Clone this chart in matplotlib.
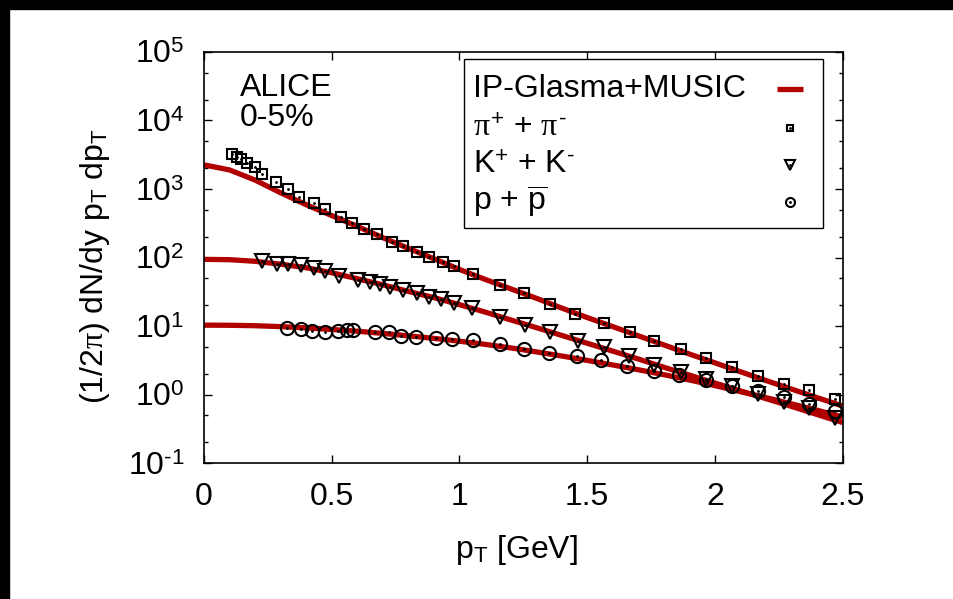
import numpy as np
import matplotlib
matplotlib.use("Agg")
import matplotlib.pyplot as plt
from matplotlib.ticker import LogLocator, FixedLocator, FuncFormatter, NullFormatter
from matplotlib.patches import Rectangle

# ALICE 0-5% data points
pion_pt = [0.108, 0.128, 0.145, 0.169, 0.2, 0.226, 0.281, 0.328, 0.372, 0.431, 0.474, 0.535,
           0.58, 0.626, 0.678, 0.735, 0.78, 0.833, 0.882, 0.934, 0.978, 1.052, 1.157, 1.254,
           1.355, 1.452, 1.564, 1.666, 1.763, 1.866, 1.964, 2.067, 2.169, 2.272, 2.368, 2.47]
pion_y = [3245, 2963, 2715, 2372, 2074, 1640, 1253, 1000, 764, 618, 505, 394,
          316, 258, 218, 170, 149, 122, 103, 86.9, 75.2, 56.9, 40.2, 29.9,
          21.3, 15.2, 11.0, 8.2, 6.1, 4.6, 3.39, 2.52, 1.87, 1.44, 1.15, 0.865]

kaon_pt = [0.228, 0.284, 0.327, 0.38, 0.431, 0.474, 0.53, 0.604, 0.65, 0.689, 0.728, 0.78,
           0.832, 0.882, 0.926, 0.978, 1.05, 1.157, 1.256, 1.355, 1.463, 1.564, 1.663, 1.763,
           1.866, 1.964, 2.067, 2.169, 2.272, 2.368, 2.47]
kaon_y = [89.8, 79.6, 79.6, 76.9, 69.5, 62.9, 54.2, 47.0, 43.9, 41.0, 36.7, 33.9,
          30.3, 26.8, 24.5, 21.4, 18.1, 13.5, 10.5, 8.2, 6.1, 4.87, 3.71, 2.70,
          2.14, 1.71, 1.33, 1.03, 0.79, 0.63, 0.46]

proton_pt = [0.326, 0.38, 0.424, 0.474, 0.523, 0.558, 0.584, 0.669, 0.725, 0.771, 0.83, 0.907,
             0.969, 1.054, 1.157, 1.254, 1.349, 1.459, 1.555, 1.657, 1.76, 1.859, 1.964, 2.067,
             2.169, 2.272, 2.368, 2.47]
proton_y = [9.25, 8.95, 8.54, 8.09, 8.46, 8.7, 8.7, 8.26, 8.26, 7.14, 6.98, 6.68,
            6.46, 6.25, 5.44, 4.65, 4.01, 3.66, 3.2, 2.63, 2.22, 1.92, 1.62, 1.33,
            1.11, 0.916, 0.73, 0.58]

# IP-Glasma+MUSIC curves
curve_pt = [0.0, 0.1, 0.2, 0.3, 0.4, 0.5, 0.6, 0.7, 0.8, 0.9, 1.0, 1.1, 1.2,
            1.3, 1.4, 1.5, 1.6, 1.7, 1.8, 1.9, 2.0, 2.1, 2.2, 2.3, 2.4, 2.5]
pion_curve = [2250, 1900, 1350, 880, 590, 410, 285, 195, 136, 96, 67, 48, 35,
              25.5, 18.3, 13.3, 9.8, 7.2, 5.3, 3.9, 2.9, 2.15, 1.6, 1.2, 0.9, 0.68]
kaon_curve = [94, 93, 88, 80, 71, 60, 49, 40, 32, 26, 20.5, 16, 12.3,
              9.5, 7.3, 5.6, 4.3, 3.3, 2.5, 1.92, 1.47, 1.13, 0.87, 0.67, 0.51, 0.39]
proton_curve = [10.3, 10.25, 10.1, 9.8, 9.4, 8.9, 8.4, 7.8, 7.2, 6.6, 6.0, 5.4, 4.8,
                4.2, 3.65, 3.15, 2.7, 2.3, 1.95, 1.63, 1.35, 1.1, 0.9, 0.73, 0.59, 0.47]

x_ticks = [0, 0.5, 1, 1.5, 2, 2.5]

plt.rcParams['font.family'] = ['Liberation Sans', 'DejaVu Sans']
plt.rcParams['mathtext.fontset'] = 'custom'
plt.rcParams['mathtext.rm'] = 'Liberation Sans'
plt.rcParams['mathtext.it'] = 'Liberation Serif'
plt.rcParams['mathtext.bf'] = 'Liberation Sans:bold'

FS = 23
RED = '#b00000'
HY = '\u2010'  # short hyphen as in the gnuplot output


def log_label(v, pos):
    e = int(round(np.log10(v)))
    return '10$^{\\mathregular{%s}}$' % str(e).replace('-', HY)


fig = plt.figure(figsize=(9.54, 5.99), dpi=100)
ax = fig.add_axes([0.2138, 0.227, 0.6695, 0.6862])

for yc in [pion_curve, kaon_curve, proton_curve]:
    ax.plot(curve_pt, yc, color=RED, lw=3.8, solid_capstyle='butt', zorder=2)

mk = dict(color='black', mfc='none', mew=1.5, ls='none', zorder=3)
ax.plot(pion_pt, pion_y, marker='s', ms=7, **mk)
ax.plot(kaon_pt, kaon_y, marker='v', ms=9.5, **mk)
ax.plot(proton_pt, proton_y, marker='o', ms=9.5, **mk)
for xs, ys in [(pion_pt, pion_y), (kaon_pt, kaon_y), (proton_pt, proton_y)]:
    ax.plot(xs, ys, marker='.', ms=2, color='black', ls='none', zorder=4)

ax.set_yscale('log')
ax.set_xlim(0, 2.5)
ax.set_ylim(0.1, 1e5)
ax.xaxis.set_major_locator(FixedLocator(x_ticks))
ax.xaxis.set_major_formatter(FuncFormatter(lambda v, p: '%g' % v))
ax.yaxis.set_major_locator(LogLocator(base=10, numticks=20))
ax.yaxis.set_major_formatter(FuncFormatter(log_label))
ax.yaxis.set_minor_locator(LogLocator(base=10, subs=(2.0, 5.0), numticks=20))
ax.yaxis.set_minor_formatter(NullFormatter())
ax.tick_params(which='both', direction='in', top=True, right=True, width=1.0, colors='black')
ax.tick_params(which='major', length=6)
ax.tick_params(which='minor', length=3)
ax.tick_params(axis='x', labelsize=FS, pad=14)
ax.tick_params(axis='y', labelsize=FS, pad=14)
for s in ax.spines.values():
    s.set_linewidth(1.2)

ax.set_xlabel(r'p$_\mathrm{T}$ [GeV]', fontsize=FS)
ax.xaxis.set_label_coords(0.49, -0.17)
ax.set_ylabel(r'(1/2$\pi$) dN/dy p$_\mathrm{T}$ dp$_\mathrm{T}$', fontsize=FS)
ax.yaxis.set_label_coords(-0.144, 0.48)

ax.text(0.056, 0.912, 'ALICE', transform=ax.transAxes, fontsize=FS, va='center')
ax.text(0.056, 0.839, '0-5%', transform=ax.transAxes, fontsize=FS, va='center')

# legend drawn gnuplot-style: labels left, samples right
ax.add_patch(Rectangle((0.4076, 0.571), 0.5621, 0.412, transform=ax.transAxes,
                       fill=True, facecolor='white', edgecolor='black', lw=1.0, zorder=5))
leg_rows = [0.910, 0.815, 0.725, 0.635]
leg_labels = ['IP-Glasma+MUSIC',
              '$\\pi^{\\mathregular{+}}$ + $\\pi^{\\mathregular{%s}}$' % HY,
              'K$^{\\mathregular{+}}$ + K$^{\\mathregular{%s}}$' % HY,
              r'p + $\overline{\mathrm{p}}$']
for ly, lab in zip(leg_rows, leg_labels):
    ax.text(0.421, ly, lab, transform=ax.transAxes, fontsize=FS, va='center', zorder=6)
ax.plot([0.8967, 0.938], [leg_rows[0]] * 2, color=RED, lw=3.8, transform=ax.transAxes,
        solid_capstyle='butt', zorder=6)
for ly, m, ms in zip(leg_rows[1:], ['s', 'v', 'o'], [5, 6.5, 6.5]):
    ax.plot([0.9175], [ly], marker=m, ms=ms, color='black', mfc='none', mew=1.5,
            transform=ax.transAxes, zorder=6)
    ax.plot([0.9175], [ly], marker='.', ms=2, color='black', transform=ax.transAxes, zorder=7)

# black frame on top and left edges of the image
fig.patches.append(Rectangle((0, 1 - 9 / 599), 1, 9 / 599, transform=fig.transFigure,
                             color='black', zorder=10))
fig.patches.append(Rectangle((0, 0), 9 / 954, 1, transform=fig.transFigure,
                             color='black', zorder=10))

fig.savefig('out.png', dpi=100)
